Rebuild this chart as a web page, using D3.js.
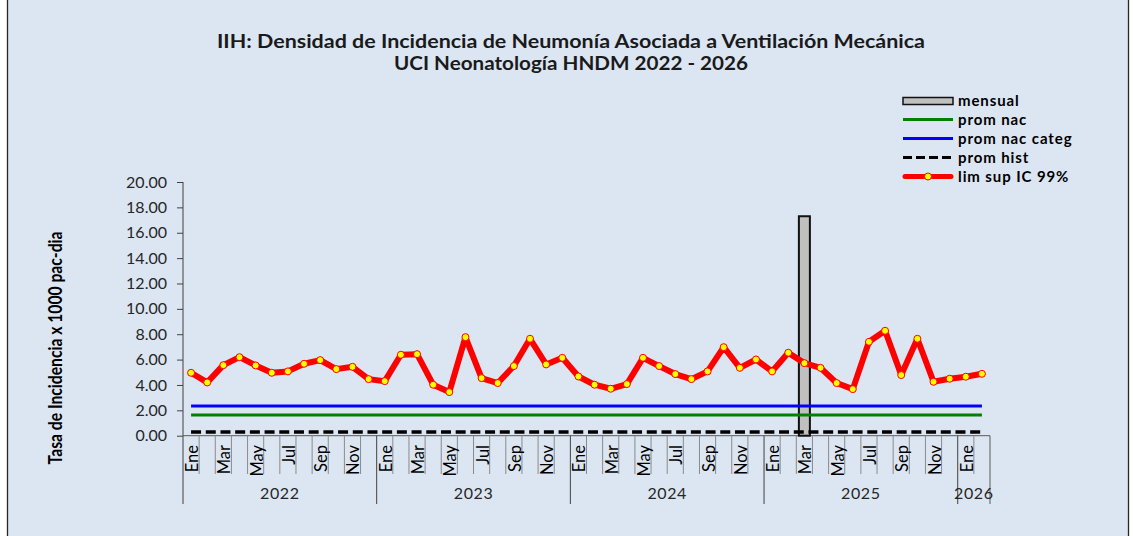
<!DOCTYPE html>
<html>
<head>
<meta charset="utf-8">
<script src="https://cdn.jsdelivr.net/npm/d3@7"></script>
<style>
  html, body { margin: 0; padding: 0; background: #ffffff; }
  svg { display: block; font-family: Lato, "Open Sans", sans-serif; }
</style>
</head>
<body>
<svg id="chart" width="1134" height="536"></svg>
<script>
// ---------- DATA ----------
const years = ["2022", "2023", "2024", "2025", "2026"];
const monthNames = ["Ene","Feb","Mar","Abr","May","Jun","Jul","Ago","Sep","Oct","Nov","Dic"];
const monthsPerYear = [12, 12, 12, 12, 2];

// monthly rate (bars)
const mensual = [0,0,0,0,0,0,0,0,0,0,0,0,
                 0,0,0,0,0,0,0,0,0,0,0,0,
                 0,0,0,0,0,0,0,0,0,0,0,0,
                 0,0,17.3,0,0,0,0,0,0,0,0,0,
                 0,0];
// upper limit CI 99%
const limSup = [4.96,4.20,5.56,6.19,5.54,4.96,5.07,5.67,5.96,5.25,5.43,4.46,
                4.30,6.38,6.43,4.02,3.44,7.77,4.54,4.15,5.49,7.64,5.62,6.14,
                4.67,4.02,3.70,4.07,6.14,5.49,4.86,4.46,5.07,6.98,5.35,6.01,
                5.07,6.54,5.72,5.35,4.15,3.67,7.40,8.27,4.78,7.64,4.25,4.49,
                4.65,4.88];
const promNac = 1.63;
const promNacCateg = 2.34;
const promHist = 0.29;
const yTicks = [0,2,4,6,8,10,12,14,16,18,20];

const titleLines = ["IIH: Densidad de Incidencia de Neumonía Asociada a Ventilación Mecánica",
                    "UCI Neonatología HNDM 2022 - 2026"];
const yTitle = "Tasa de Incidencia x 1000 pac-dia";
const legendItems = ["mensual", "prom nac", "prom nac categ", "prom hist", "lim sup IC 99%"];

// ---------- BUILD ----------
const cats = [];
years.forEach((y, yi) => {
  for (let m = 0; m < monthsPerYear[yi]; m++) cats.push({key: y + "-" + m, year: y, month: monthNames[m], m});
});
const rows = cats.map((c, i) => ({...c, mensual: mensual[i], limSup: limSup[i],
  promNac: promNac, promNacCateg: promNacCateg, promHist: promHist}));

const svg = d3.select("#chart");
const W = 1134, H = 536;
const plot = {left: 183, right: 990, top: 182, bottom: 435.7};

// background + frame
svg.append("rect").attr("x", 7.5).attr("y", -2).attr("width", 1121).attr("height", H + 4)
  .attr("fill", "#DCE6F2").attr("stroke", "#262626").attr("stroke-width", 1.3);

const x = d3.scaleBand().domain(rows.map(d => d.key)).range([plot.left, plot.right]).padding(0);
const y = d3.scaleLinear().domain([0, 20]).range([plot.bottom, plot.top]);
const bw = x.bandwidth();
const cx = k => x(k) + bw / 2;

// title
svg.append("text").attr("x", 571).attr("y", 48).attr("text-anchor", "middle")
  .attr("font-weight", "bold").attr("font-size", 18.5).attr("fill", "#1a1a1a")
  .attr("textLength", 708).attr("lengthAdjust", "spacingAndGlyphs").text(titleLines[0]);
svg.append("text").attr("x", 571).attr("y", 70).attr("text-anchor", "middle")
  .attr("font-weight", "bold").attr("font-size", 18.5).attr("fill", "#1a1a1a")
  .attr("textLength", 354).attr("lengthAdjust", "spacingAndGlyphs").text(titleLines[1]);

// y axis
const yAxis = d3.axisLeft(y).tickValues(yTicks).tickFormat(d3.format(".2f")).tickSize(6).tickPadding(10);
const gy = svg.append("g").attr("transform", `translate(${plot.left},0)`).call(yAxis);
gy.select(".domain").remove();
gy.selectAll(".tick line").attr("stroke", "#404040");
gy.selectAll(".tick text").attr("font-size", 16).attr("fill", "#262626").attr("font-family", "Lato");
svg.append("line").attr("x1", plot.left).attr("x2", plot.left).attr("y1", plot.top).attr("y2", 504)
  .attr("stroke", "#404040").attr("stroke-width", 1);

// y title
svg.append("text").attr("transform", `translate(62,348) rotate(-90)`).attr("text-anchor", "middle")
  .attr("font-weight", "bold").attr("font-size", 18).attr("fill", "#000")
  .attr("textLength", 233).attr("lengthAdjust", "spacingAndGlyphs").text(yTitle);

// x axis (category, two-level)
const gx = svg.append("g");
gx.append("line").attr("x1", plot.left).attr("x2", plot.right).attr("y1", plot.bottom).attr("y2", plot.bottom)
  .attr("stroke", "#595959").attr("stroke-width", 1);
// month dividers
gx.selectAll("line.mdiv").data(rows.slice(1)).join("line").attr("class", "mdiv")
  .attr("x1", d => x(d.key)).attr("x2", d => x(d.key))
  .attr("y1", plot.bottom).attr("y2", d => d.m === 0 ? 504 : 474)
  .attr("stroke", d => d.m === 0 ? "#404040" : "#8a8a8a").attr("stroke-width", 1);
gx.append("line").attr("x1", plot.right).attr("x2", plot.right).attr("y1", plot.bottom).attr("y2", 504)
  .attr("stroke", "#595959");
// month labels (every other month)
gx.selectAll("text.mlab").data(rows.filter((d, i) => i % 2 === 0)).join("text").attr("class", "mlab")
  .attr("transform", d => `translate(${cx(d.key) + 7},445) rotate(-90)`)
  .attr("text-anchor", "end").attr("font-size", 16.5).attr("fill", "#000").text(d => d.month);
// year labels
years.forEach(yr => {
  const ks = rows.filter(d => d.year === yr);
  const x0 = x(ks[0].key), x1 = x(ks[ks.length - 1].key) + bw;
  gx.append("text").attr("x", (x0 + x1) / 2).attr("y", 499).attr("text-anchor", "middle")
    .attr("font-size", 16).attr("letter-spacing", 0.6).attr("fill", "#262626").text(yr);
});

// bars
const barW = 11;
svg.append("g").selectAll("rect").data(rows.filter(d => d.mensual > 0)).join("rect")
  .attr("x", d => cx(d.key) - barW / 2).attr("width", barW)
  .attr("y", d => y(d.mensual)).attr("height", d => y(0) - y(d.mensual))
  .attr("fill", "#C0C0C0").attr("stroke", "#111").attr("stroke-width", 2);

// reference lines
const mkLine = key => d3.line().x(d => cx(d.key)).y(d => y(d[key]));
svg.append("path").datum(rows).attr("d", mkLine("promNac")).attr("fill", "none")
  .attr("stroke", "#008000").attr("stroke-width", 3);
svg.append("path").datum(rows).attr("d", mkLine("promNacCateg")).attr("fill", "none")
  .attr("stroke", "#0000FF").attr("stroke-width", 3);
svg.append("path").datum(rows).attr("d", mkLine("promHist")).attr("fill", "none")
  .attr("stroke", "#000").attr("stroke-width", 3.3).attr("stroke-dasharray", "10,4.7");

// lim sup line
svg.append("path").datum(rows).attr("d", mkLine("limSup")).attr("fill", "none")
  .attr("stroke", "#FF0000").attr("stroke-width", 6).attr("stroke-linejoin", "round");
svg.append("g").selectAll("circle").data(rows).join("circle")
  .attr("cx", d => cx(d.key)).attr("cy", d => y(d.limSup)).attr("r", 3.5)
  .attr("fill", "#FFFF00").attr("stroke", "#FF0000").attr("stroke-width", 1);

// legend
const lg = svg.append("g");
const lx0 = 903, lx1 = 953, ly = [101, 119.5, 138.5, 157.5, 176.5];
lg.append("rect").attr("x", lx0).attr("y", ly[0] - 3.5).attr("width", lx1 - lx0).attr("height", 7)
  .attr("fill", "#C0C0C0").attr("stroke", "#111").attr("stroke-width", 1.5);
lg.append("line").attr("x1", lx0).attr("x2", lx1).attr("y1", ly[1]).attr("y2", ly[1]).attr("stroke", "#008000").attr("stroke-width", 3);
lg.append("line").attr("x1", lx0).attr("x2", lx1).attr("y1", ly[2]).attr("y2", ly[2]).attr("stroke", "#0000FF").attr("stroke-width", 3);
lg.append("line").attr("x1", lx0).attr("x2", lx1).attr("y1", ly[3]).attr("y2", ly[3]).attr("stroke", "#000").attr("stroke-width", 3).attr("stroke-dasharray", "9,4");
lg.append("line").attr("x1", lx0 + 2).attr("x2", lx1 - 2).attr("y1", ly[4]).attr("y2", ly[4]).attr("stroke", "#FF0000").attr("stroke-width", 5).attr("stroke-linecap", "round");
lg.append("circle").attr("cx", (lx0 + lx1) / 2).attr("cy", ly[4]).attr("r", 3.5).attr("fill", "#FFFF00").attr("stroke", "#FF0000");
lg.selectAll("text").data(legendItems).join("text")
  .attr("x", 958).attr("y", (d, i) => ly[i] + 5).attr("font-size", 15).attr("font-weight", "bold")
  .attr("letter-spacing", 0.9).attr("fill", "#000").text(d => d);
</script>
</body>
</html>
